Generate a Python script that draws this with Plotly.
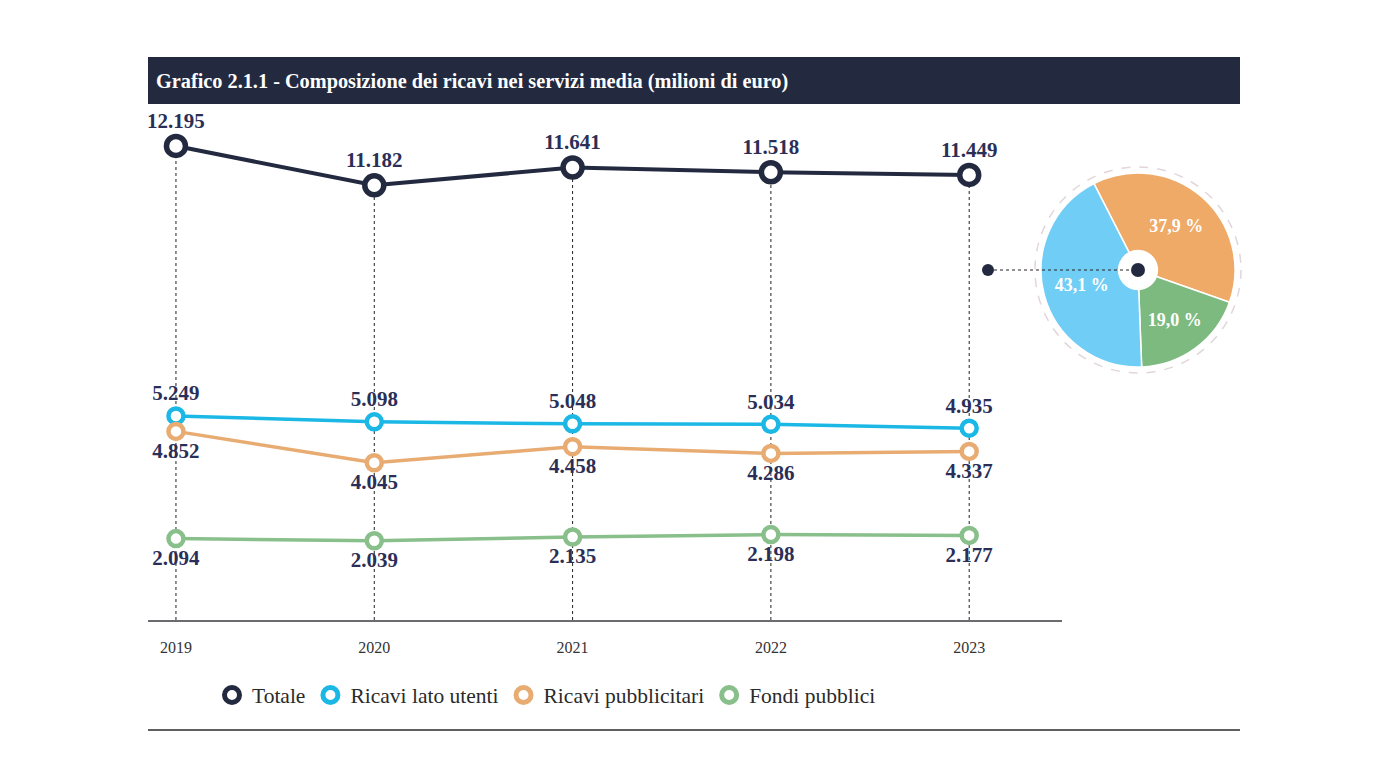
import plotly.graph_objects as go

# data
years = [2019, 2020, 2021, 2022, 2023]
totale = [12195, 11182, 11641, 11518, 11449]
lato_utenti = [5249, 5098, 5048, 5034, 4935]
pubblicitari = [4852, 4045, 4458, 4286, 4337]
fondi = [2094, 2039, 2135, 2198, 2177]

pie_labels = ['Ricavi pubblicitari', 'Fondi pubblici', 'Ricavi lato utenti']
pie_values = [37.9, 19.0, 43.1]

NAVY = '#232a40'
LABEL = '#2b2f57'
C_UT = '#1bb8e6'
C_PUB = '#e8ac72'
C_FON = '#88bf8a'
PIE_COLORS = ['#eeaa66', '#7dba80', '#70cdf5']

W, H = 1388, 768
OFF = 8  # page body margin
FONT = 'Liberation Serif'


def fmt(v):
    return f"{v:,}".replace(",", ".")


# screen pixel -> paper fraction (margins are zero, so paper = whole figure)
def px_x(p):
    return (p - OFF) / W


def px_y(p):
    return 1 - (p - OFF) / H


fig = go.Figure()

series = [
    ('Totale', totale, NAVY, 'top center', 19, 5.5),
    ('Ricavi lato utenti', lato_utenti, C_UT, 'top center', 15, 4.5),
    ('Ricavi pubblicitari', pubblicitari, C_PUB, 'bottom center', 15, 4.5),
    ('Fondi pubblici', fondi, C_FON, 'bottom center', 15, 4.5),
]

for name, vals, col, tpos, msize, lw in series:
    fig.add_trace(go.Scatter(
        x=years, y=vals, mode='lines+markers+text', name=name,
        line=dict(color=col, width=4 if name == 'Totale' else 3.5),
        marker=dict(size=msize, color='white', line=dict(color=col, width=lw)),
        text=[fmt(v) for v in vals], textposition=tpos,
        textfont=dict(family=FONT, size=21, color=LABEL, weight='bold'),
        showlegend=False, cliponaxis=False, hoverinfo='x+y+name',
    ))

# legend-only entries (markers only)
for name, vals, col, tpos, msize, lw in series:
    fig.add_trace(go.Scatter(
        x=[None], y=[None], mode='markers', name=name,
        marker=dict(size=15, color='white', line=dict(color=col, width=5)),
    ))

# pie of 2023 composition
pcx, pcy, pr = 1138, 270, 97
fig.add_trace(go.Pie(
    labels=pie_labels, values=pie_values, sort=False, direction='clockwise',
    rotation=-27, hole=0.2,
    marker=dict(colors=PIE_COLORS, line=dict(color='white', width=1.5)),
    text=[f"{v:.1f} %".replace('.', ',') for v in pie_values],
    textinfo='text', textposition='inside', insidetextorientation='horizontal',
    textfont=dict(family=FONT, size=18, color='white', weight='bold'),
    domain=dict(x=[px_x(pcx - pr), px_x(pcx + pr)], y=[px_y(pcy + pr), px_y(pcy - pr)]),
    showlegend=False, hoverinfo='label+percent',
))

fig.update_layout(
    width=W, height=H,
    margin=dict(l=0, r=0, t=0, b=0),
    paper_bgcolor='white', plot_bgcolor='white',
    font=dict(family=FONT, color=NAVY),
    legend=dict(
        orientation='h', x=px_x(212), y=px_y(695), xanchor='left', yanchor='middle',
        font=dict(family=FONT, size=21.5, color='#2a2a2a'),
        traceorder='normal', bgcolor='rgba(0,0,0,0)',
    ),
    showlegend=True,
)

# dotted drop lines from the total down to the axis
for yr, v in zip(years, totale):
    fig.add_shape(type='line', x0=yr, x1=yr, y0=0, y1=v, xref='x', yref='y',
                  line=dict(color='#222222', width=1, dash='dot'), layer='below')

# title bar
fig.add_shape(type='rect', xref='paper', yref='paper', x0=px_x(148), x1=px_x(1240),
              y0=px_y(104), y1=px_y(57), fillcolor=NAVY, line=dict(width=0))
fig.add_annotation(
    text='<b>Grafico 2.1.1 - Composizione dei ricavi nei servizi media (milioni di euro)</b>',
    xref='paper', yref='paper', x=px_x(154), y=px_y(82), xanchor='left', yanchor='middle',
    showarrow=False, font=dict(family=FONT, size=20.3, color='white'),
)
# bottom rule
fig.add_shape(type='line', xref='paper', yref='paper', x0=px_x(148), x1=px_x(1240),
              y0=px_y(730), y1=px_y(730), line=dict(color='#2a2a2a', width=1.3))
# dashed ring around the pie
fig.add_shape(type='circle', xref='paper', yref='paper', x0=px_x(pcx - 103), x1=px_x(pcx + 103),
              y0=px_y(pcy + 103), y1=px_y(pcy - 103),
              line=dict(color='#e2d6da', width=1.5, dash='dash'))
# connector from the chart to the pie
fig.add_shape(type='line', xref='paper', yref='paper', x0=px_x(988), x1=px_x(pcx),
              y0=px_y(pcy), y1=px_y(pcy), line=dict(color='#222222', width=1, dash='dot'))
fig.add_shape(type='circle', xref='paper', yref='paper', x0=px_x(982), x1=px_x(994),
              y0=px_y(pcy + 6), y1=px_y(pcy - 6), fillcolor=NAVY, line=dict(width=0))
fig.add_shape(type='circle', xref='paper', yref='paper', x0=px_x(pcx - 7), x1=px_x(pcx + 7),
              y0=px_y(pcy + 7), y1=px_y(pcy - 7), fillcolor=NAVY, line=dict(width=0))

fig.update_xaxes(
    domain=[px_x(148), px_x(1062)],
    range=[2018.859, 2023.468], tickvals=years, ticktext=[str(y) for y in years],
    showgrid=False, zeroline=False, showline=True, linecolor='#6b6b70', linewidth=2,
    ticks='', ticklabelstandoff=12, tickfont=dict(family=FONT, size=16, color='#333333'),
    fixedrange=True,
)
fig.update_yaxes(domain=[px_y(620), px_y(110)], range=[0, 13120], visible=False,
                 showgrid=False, zeroline=False, fixedrange=True)

fig.write_html("out.html")
